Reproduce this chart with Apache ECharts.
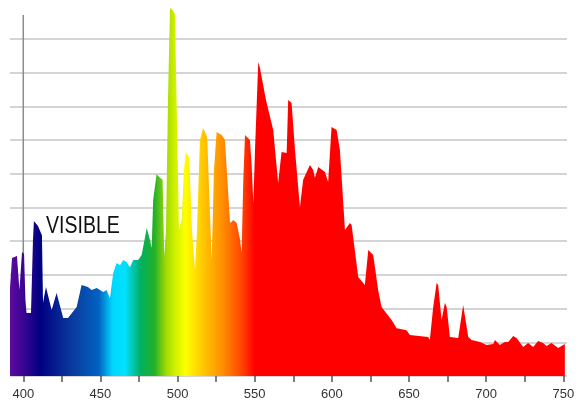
<!DOCTYPE html>
<html>
<head>
<meta charset="utf-8">
<script src="https://cdn.jsdelivr.net/npm/echarts@6/dist/echarts.min.js"></script>
<style>
html,body{margin:0;padding:0;background:#fff;}
#chart{width:578px;height:402px;}
</style>
</head>
<body>
<div id="chart"></div>
<script>
// wavelength (nm)
var wavelengths = [391.4,392.7,395.9,397.5,399.2,400.5,401.4,402.1,405.0,406.3,406.9,409.5,412.1,412.8,414.7,418.4,421.6,425.9,429.0,434.6,437.8,441.9,444.3,447.6,451.8,454.0,456.2,458.3,460.5,462.7,464.8,467.0,469.1,471.3,474.5,476.7,478.9,480.0,482.1,483.2,484.2,486.4,488.6,490.3,491.4,492.5,493.8,495.1,496.7,498.3,499.6,500.9,502.6,504.2,505.4,507.6,509.3,511.3,512.6,514.5,516.6,519.2,520.7,522.1,523.6,525.3,528.6,530.7,532.7,534.0,536.1,538.3,540.5,541.5,542.6,543.7,546.9,548.0,549.1,550.2,552.3,553.4,557.3,562.0,563.8,565.2,567.4,570.7,571.7,573.9,576.1,579.3,581.4,585.8,587.9,589.0,591.2,595.5,597.6,599.8,603.1,605.2,608.5,611.7,612.8,617.1,621.4,623.6,626.8,630.0,632.2,638.7,642.0,648.4,650.6,662.4,663.5,665.7,667.9,668.9,671.1,673.3,674.4,676.5,681.9,685.1,688.4,690.6,696.0,700.3,704.6,705.7,708.9,712.1,714.3,717.5,719.7,724.0,727.2,730.5,733.7,736.9,739.1,742.4,746.7,751.0];
// relative intensity
var intensity = [2.61,3.50,3.56,2.55,3.68,3.62,2.26,1.87,1.87,4.04,4.60,4.45,4.18,2.17,2.64,1.96,2.46,1.72,1.72,2.05,2.70,2.64,2.55,2.61,2.49,2.55,2.31,3.06,3.35,3.29,3.44,3.38,3.23,3.44,3.44,3.59,4.12,4.39,4.04,3.80,5.22,5.99,5.88,5.82,3.53,4.33,8.19,10.92,10.86,10.74,7.60,4.33,4.63,6.11,6.65,6.47,4.33,3.15,4.33,7.00,7.36,7.09,5.22,3.44,6.11,7.24,7.15,7.00,5.52,4.54,4.63,4.54,4.04,3.65,5.82,7.15,7.00,6.26,5.13,6.71,9.32,9.14,8.19,7.30,6.41,5.73,6.65,6.62,8.19,8.10,6.71,5.01,5.82,6.26,6.11,5.88,6.20,6.05,5.76,7.39,7.30,6.71,4.33,4.54,4.48,2.94,2.70,3.74,3.59,2.55,2.05,1.66,1.42,1.36,1.22,1.16,1.07,2.05,2.76,2.70,1.66,2.17,2.05,1.16,1.13,2.11,1.16,1.07,1.01,0.92,0.95,1.07,0.92,1.01,1.01,1.19,1.13,0.86,0.98,0.86,1.04,0.98,0.89,0.98,0.83,0.95];

// spectrum colour stops
var stopWavelengths = [391.4,400,411,432,449,458,466,471,476,485,493,498,505,518,530,543,550,751];
var stopColors = ['#5c0a9c','#3a0592','#000082','#0a3c9e','#0062c2','#00d8ff','#00e2ff','#00c6b0','#00b060','#22b02a','#a8dc00','#ccf000','#ffff00','#ffc000','#ff8a00','#ff3a00','#ff0000','#ff0000'];

var xTicks = [400,425,450,475,500,525,550,575,600,625,650,675,700,725,750];
var xLabels = [400,450,500,550,600,650,700,750];
var markerLine = [[400, 0], [400, 10.71]];
var annotation = 'VISIBLE';

var data = wavelengths.map(function (w, i) { return [w, intensity[i]]; });
var wMin = wavelengths[0], wMax = wavelengths[wavelengths.length - 1];
var colorStops = stopWavelengths.map(function (w, i) {
  return { offset: Math.min(1, Math.max(0, (w - wMin) / (wMax - wMin))), color: stopColors[i] };
});

var chart = echarts.init(document.getElementById('chart'), null, { renderer: 'canvas' });
chart.setOption({
  animation: false,
  backgroundColor: '#ffffff',
  grid: { left: 10, right: 11, top: 39, bottom: 26 },
  xAxis: {
    type: 'value',
    min: 391.4,
    max: 752.4,
    axisLine: { show: false },
    splitLine: { show: false },
    axisTick: {
      show: true,
      customValues: xTicks,
      length: 6,
      lineStyle: { color: '#555', width: 1.5 }
    },
    axisLabel: {
      customValues: xLabels,
      color: '#333',
      fontSize: 13,
      fontFamily: 'Liberation Sans, Arial, sans-serif',
      margin: 12
    }
  },
  yAxis: {
    type: 'value',
    min: 0,
    max: 10,
    interval: 1,
    axisLine: { show: false },
    axisTick: { show: false },
    axisLabel: { show: false },
    splitLine: { show: true, lineStyle: { color: '#c6c6c6', width: 1.6 } }
  },
  graphic: [{
    type: 'text',
    x: 46,
    y: 215,
    scaleX: 0.85,
    z: 10,
    style: {
      text: annotation,
      fill: '#111',
      font: '23px "Liberation Sans", Arial, sans-serif'
    }
  }],
  series: [{
    type: 'line',
    data: markerLine,
    clip: false,
    showSymbol: false,
    symbol: 'none',
    silent: true,
    z: 1,
    lineStyle: { color: '#8c8c8c', width: 1.5 }
  }, {
    type: 'line',
    data: data,
    clip: false,
    showSymbol: false,
    symbol: 'none',
    z: 3,
    lineStyle: { width: 0 },
    areaStyle: {
      opacity: 1,
      color: { type: 'linear', x: 0, y: 0, x2: 1, y2: 0, colorStops: colorStops }
    }
  }]
});
</script>
</body>
</html>
